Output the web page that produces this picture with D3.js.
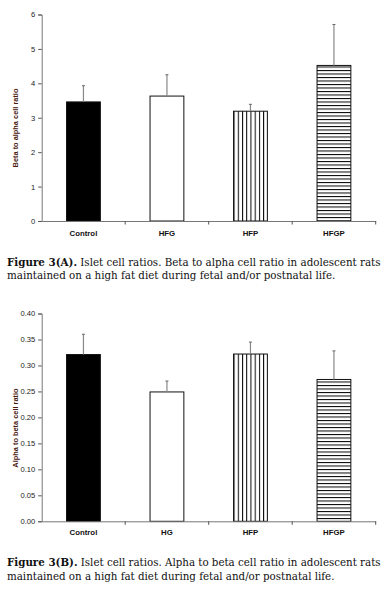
<!DOCTYPE html>
<html><head><meta charset="utf-8">
<script src="https://cdn.jsdelivr.net/npm/d3@7/dist/d3.min.js"></script>
<style>body{margin:0;background:#fff}svg{display:block}</style>
</head><body>
<svg id="c" width="389" height="604"></svg>
<script>
const categoriesA = ["Control","HFG","HFP","HFGP"];
const valuesA = [3.46, 3.63, 3.19, 4.52];
const errorsA = [0.47, 0.62, 0.20, 1.19];
const ticksA = [0,1,2,3,4,5,6];
const yLabelA = "Beta to alpha cell ratio";

const categoriesB = ["Control","HG","HFP","HFGP"];
const valuesB = [0.321, 0.249, 0.322, 0.273];
const errorsB = [0.039, 0.021, 0.023, 0.055];
const ticksB = [0,0.05,0.10,0.15,0.20,0.25,0.30,0.35,0.40];
const yLabelB = "Alpha to beta cell ratio";

const fills = ["black","white","url(#vstripe)","url(#hstripe)"];
const captionA = [["Figure 3(A).", " Islet cell ratios. Beta to alpha cell ratio in adolescent rats"],["", "maintained on a high fat diet during fetal and/or postnatal life."]];
const captionB = [["Figure 3(B).", " Islet cell ratios. Alpha to beta cell ratio in adolescent rats"],["", "maintained on a high fat diet during fetal and/or postnatal life."]];

const svg = d3.select("#c");
const x = d3.scaleBand().domain([0,1,2,3]).range([41.7,375.7]).padding(0);
const bw = x.bandwidth()*0.405;

const defs = svg.append("defs");
const vp = defs.append("pattern").attr("id","vstripe").attr("patternUnits","userSpaceOnUse")
  .attr("x", x(2)+(x.bandwidth()-bw)/2).attr("y",0).attr("width", bw/8).attr("height",10);
vp.append("rect").attr("width",bw/8).attr("height",10).attr("fill","white");
vp.append("rect").attr("x",0).attr("width",1).attr("height",10).attr("fill","black");
const hp = defs.append("pattern").attr("id","hstripe").attr("patternUnits","userSpaceOnUse")
  .attr("x",0).attr("y",0).attr("width",10).attr("height",3.5);
hp.append("rect").attr("width",10).attr("height",3.5).attr("fill","white");
hp.append("rect").attr("y",0).attr("width",10).attr("height",1).attr("fill","black");

function chart(y0, y1, max, cats, vals, errs, ticks, fmt, ylab, labY, catY) {
  const y = d3.scaleLinear().domain([0,max]).range([y0,y1]);
  const g = svg.append("g");
  g.selectAll("rect.bar").data(vals).join("rect")
    .attr("x",(d,i)=>x(i)+(x.bandwidth()-bw)/2)
    .attr("y",d=>y(d)).attr("width",bw).attr("height",d=>y(0)-y(d))
    .attr("fill",(d,i)=>fills[i]).attr("stroke","#111").attr("stroke-width",1);
  g.selectAll("line.err").data(vals).join("line")
    .attr("x1",(d,i)=>x(i)+x.bandwidth()/2).attr("x2",(d,i)=>x(i)+x.bandwidth()/2)
    .attr("y1",d=>y(d)).attr("y2",(d,i)=>y(d+errs[i]))
    .attr("stroke","#888").attr("stroke-width",1.2);
  g.selectAll("line.cap").data(vals).join("line")
    .attr("x1",(d,i)=>x(i)+x.bandwidth()/2-1.5).attr("x2",(d,i)=>x(i)+x.bandwidth()/2+1.5)
    .attr("y1",(d,i)=>y(d+errs[i])).attr("y2",(d,i)=>y(d+errs[i]))
    .attr("stroke","#666").attr("stroke-width",1);
  const ya = g.append("g").attr("transform",`translate(${x.range()[0]},0)`)
    .call(d3.axisLeft(y).tickValues(ticks).tickFormat(fmt).tickSize(3.5).tickPadding(3));
  ya.select(".domain").attr("stroke","#777");
  ya.selectAll(".tick line").attr("stroke","#555");
  ya.selectAll("text").attr("font-family","Liberation Sans, Arial").attr("font-size",7.6).attr("fill","#222");
  const xa = g.append("g").attr("transform",`translate(0,${y(0)})`)
    .call(d3.axisBottom(x).tickValues([]).tickSizeOuter(0));
  xa.select(".domain").attr("stroke","#777");
  xa.selectAll("line.bt").data([1,2,3,4]).join("line").attr("class","bt")
    .attr("x1",d=>x.range()[0]+d*x.bandwidth()).attr("x2",d=>x.range()[0]+d*x.bandwidth())
    .attr("y1",0).attr("y2",3.5).attr("stroke","#555");
  g.selectAll("text.cat").data(cats).join("text").attr("class","cat")
    .attr("x",(d,i)=>x(i)+x.bandwidth()/2).attr("y",catY).attr("text-anchor","middle")
    .attr("font-family","Liberation Sans, Arial").attr("font-weight","bold").attr("font-size",7.8)
    .attr("fill","#111").text(d=>d);
  g.append("text").attr("transform",`translate(18,${labY}) rotate(-90)`).attr("text-anchor","middle")
    .attr("font-family","Liberation Sans, Arial").attr("font-weight","bold").attr("font-size",7.4)
    .attr("fill","#4a1a10").text(ylab);
}
chart(221, 14.5, 6, categoriesA, valuesA, errorsA, ticksA, d3.format("d"), yLabelA, 128, 236);
chart(521.3, 313.5, 0.40, categoriesB, valuesB, errorsB, ticksB, d3.format(".2f"), yLabelB, 428, 535);

function caption(lines, ys) {
  const texts = lines.map((ln,i)=>{
    const t = svg.append("text").attr("x",7).attr("y",ys[i])
      .attr("font-family","DejaVu Serif Condensed, DejaVu Serif").attr("font-stretch","condensed")
      .attr("font-size",10).attr("fill","#111");
    if (ln[0]) t.append("tspan").attr("font-weight","bold").text(ln[0]);
    t.append("tspan").text(ln[1]);
    return t;
  });
  const w = texts[0].node().getComputedTextLength();
  const fs = 10*374/w;
  texts.forEach(t=>t.attr("font-size",fs));
}
caption(captionA, [265.5, 279]);
caption(captionB, [566, 579.5]);
</script>
</body></html>
